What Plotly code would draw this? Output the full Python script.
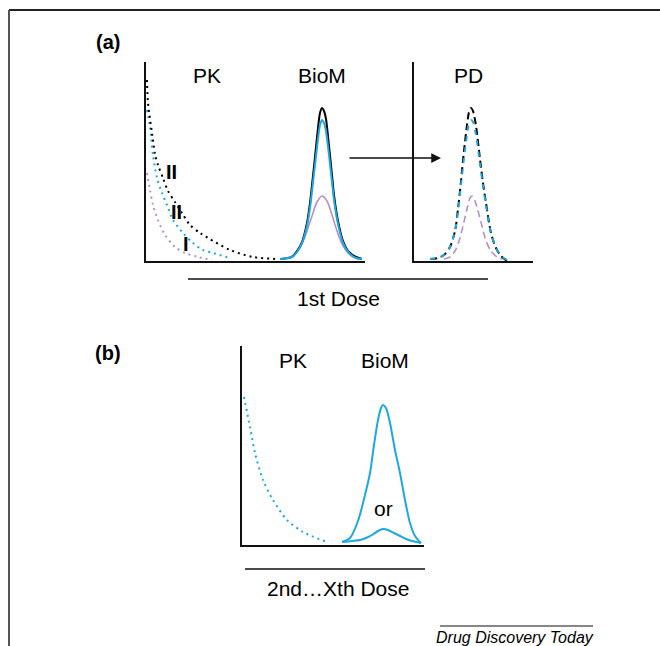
import plotly.graph_objects as go

W, H = 660, 646

# ---------------- data (x = time offset, y = level) ----------------
# Panel (a) PK: three dotted decay curves (black = II, blue = II, purple = I)
a_pk_black_x = [1, 2, 7, 9, 12, 17, 22, 29, 36, 44, 54, 62, 84, 107, 131]
a_pk_black_y = [181, 158, 121, 107, 96, 83, 70, 59, 48, 36, 28, 23, 11, 4, 2]
a_pk_blue_x = [1, 4, 7, 11, 16, 21, 27, 37, 47, 57, 67, 84]
a_pk_blue_y = [151, 134, 106, 83, 68, 56, 41, 28, 18, 11, 8, 3]
a_pk_purple_x = [1, 4, 7, 12, 19, 29, 39, 52, 66]
a_pk_purple_y = [88, 71, 56, 41, 26, 14, 8, 4, 1]

# Panel (a) BioM peaks
a_bm_black_x = [134, 146, 151, 156, 161, 164, 166, 169, 172, 174, 176, 178, 180, 183, 186, 188, 192, 197, 203, 210, 216]
a_bm_black_y = [2, 4, 10, 19, 38, 58, 76, 104, 133, 148, 153, 150, 142, 115, 86, 66, 40, 20, 9, 4, 2]
a_bm_blue_x = [134, 146, 151, 156, 161, 164, 166, 169, 172, 174, 176, 178, 180, 183, 186, 188, 192, 197, 203, 210, 216]
a_bm_blue_y = [2, 4, 9, 18, 35, 53, 70, 96, 122, 136, 141, 138, 130, 106, 79, 61, 37, 18, 8, 3, 2]
a_bm_purple_x = [134, 144, 151, 156, 161, 166, 171, 176, 181, 186, 191, 196, 202, 209, 216]
a_bm_purple_y = [2, 4, 9, 17, 30, 45, 59, 65, 60, 46, 30, 17, 8, 3, 2]

# Panel (a) PD peaks (dashed)
pd_black_x = [16, 24, 30, 36, 41, 44, 47, 50, 53, 55, 57, 59, 62, 66, 69, 72, 77, 82, 87, 93]
pd_black_y = [2, 3, 6, 14, 30, 52, 80, 110, 136, 149, 153, 150, 135, 102, 78, 58, 28, 13, 5, 0]
pd_blue_x = [16, 24, 30, 36, 41, 44, 47, 50, 53, 55, 57, 59, 62, 66, 69, 72, 77, 82, 87, 93]
pd_blue_y = [2, 3, 6, 14, 30, 50, 76, 103, 126, 138, 141, 139, 126, 97, 75, 56, 28, 13, 5, 1]
pd_purple_x = [30, 36, 41, 45, 49, 53, 56, 58, 61, 64, 68, 72, 77, 83, 88]
pd_purple_y = [2, 4, 10, 20, 35, 52, 63, 65, 60, 50, 35, 20, 10, 4, 2]

# Panel (b) PK and BioM
b_pk_x = [2, 8, 13, 21, 31, 45, 61, 85]
b_pk_y = [148, 118, 92, 65, 45, 25, 13, 3]
b_bm_high_x = [100, 108, 116, 122, 128, 132, 136, 139, 141, 144, 148, 153, 158, 163, 168, 173, 179]
b_bm_high_y = [3, 7, 24, 46, 72, 100, 125, 137, 140, 137, 122, 95, 72, 45, 22, 9, 2]
b_bm_low_x = [100, 110, 118, 124, 130, 136, 141, 146, 152, 158, 164, 170, 179]
b_bm_low_y = [3, 4, 5, 7, 10, 14, 16, 15, 12, 9, 6, 4, 2]

# ---------------- styles ----------------
BLACK = "#000000"
BLUE = "#1fa8e0"
PURPLE = "#b98fca"
FONT = "Liberation Sans, Arial, sans-serif"


def X(px):
    return px / W


def Y(py):
    return 1 - py / H


fig = go.Figure()


def add(x, y, color, width, dash, xa, ya):
    fig.add_trace(go.Scatter(
        x=x, y=y, mode="lines", xaxis=xa, yaxis=ya,
        line=dict(color=color, width=width, dash=dash, shape="spline", smoothing=0.8),
        hoverinfo="skip", showlegend=False))


DOT = "2px,4px"
DASH = "7px,4px"

# panel (a) left
add(a_pk_purple_x, a_pk_purple_y, PURPLE, 2, DOT, "x", "y")
add(a_pk_blue_x, a_pk_blue_y, BLUE, 2, DOT, "x", "y")
add(a_pk_black_x, a_pk_black_y, BLACK, 2, DOT, "x", "y")
add(a_bm_purple_x, a_bm_purple_y, PURPLE, 1.6, "solid", "x", "y")
add(a_bm_black_x, a_bm_black_y, BLACK, 2, "solid", "x", "y")
add(a_bm_blue_x, a_bm_blue_y, BLUE, 2, "solid", "x", "y")

# panel (a) PD
add(pd_purple_x, pd_purple_y, PURPLE, 1.6, DASH, "x2", "y2")
add(pd_black_x, pd_black_y, BLACK, 2, DASH, "x2", "y2")
add(pd_blue_x, pd_blue_y, BLUE, 2, "5px,6px", "x2", "y2")

# panel (b)
add(b_pk_x, b_pk_y, BLUE, 2, DOT, "x3", "y3")
add(b_bm_high_x, b_bm_high_y, BLUE, 2, "solid", "x3", "y3")
add(b_bm_low_x, b_bm_low_y, BLUE, 2, "solid", "x3", "y3")

ax_common = dict(showline=True, linecolor="#111111", linewidth=1.6, showgrid=False,
                 zeroline=False, showticklabels=False, ticks="", fixedrange=True)

fig.update_layout(
    width=W, height=H,
    margin=dict(l=0, r=0, t=0, b=0),
    paper_bgcolor="white", plot_bgcolor="white",
    font=dict(family=FONT, color="black"),
    xaxis=dict(domain=[X(146), X(365)], range=[0, 219], anchor="y", **ax_common),
    yaxis=dict(domain=[Y(261), Y(62)], range=[0, 199], anchor="x", **ax_common),
    xaxis2=dict(domain=[X(414), X(533)], range=[0, 119], anchor="y2", **ax_common),
    yaxis2=dict(domain=[Y(261), Y(62)], range=[0, 199], anchor="x2", **ax_common),
    xaxis3=dict(domain=[X(242), X(424)], range=[0, 182], anchor="y3", **ax_common),
    yaxis3=dict(domain=[Y(545), Y(346)], range=[0, 199], anchor="x3", **ax_common),
)

# decorative frame and separator lines
shapes = [
    dict(type="line", xref="paper", yref="paper", x0=X(9), x1=X(660), y0=Y(10), y1=Y(10),
         line=dict(color="#222222", width=2)),
    dict(type="line", xref="paper", yref="paper", x0=X(9), x1=X(9), y0=Y(10), y1=Y(646),
         line=dict(color="#555555", width=2)),
    dict(type="line", xref="paper", yref="paper", x0=X(188), x1=X(488), y0=Y(279), y1=Y(279),
         line=dict(color="#111111", width=1.3)),
    dict(type="line", xref="paper", yref="paper", x0=X(245), x1=X(425), y0=Y(569), y1=Y(569),
         line=dict(color="#111111", width=1.3)),
    dict(type="line", xref="paper", yref="paper", x0=X(440), x1=X(593), y0=Y(626), y1=Y(626),
         line=dict(color="#111111", width=1)),
]
fig.update_layout(shapes=shapes)


def label(text, px, py, size=21, bold=False, italic=False):
    t = text
    if bold:
        t = "<b>" + t + "</b>"
    if italic:
        t = "<i>" + t + "</i>"
    fig.add_annotation(x=X(px), y=Y(py), xref="paper", yref="paper", text=t,
                       showarrow=False, xanchor="center", yanchor="middle",
                       font=dict(size=size, family=FONT, color="black"))


label("(a)", 108, 42, 20, bold=True)
label("(b)", 108, 353, 20, bold=True)
label("PK", 207, 75)
label("BioM", 322, 75)
label("PD", 468, 75)
label("II", 171, 172, 20, bold=True)
label("II", 176, 212, 20, bold=True)
label("I", 186, 244, 20, bold=True)
label("1st Dose", 338, 298)
label("PK", 293, 360)
label("BioM", 385, 360)
label("or", 383, 508)
label("2nd…Xth Dose", 338, 588)
label("Drug Discovery Today", 515, 637, 16, italic=True)

# arrow from BioM to PD
fig.add_annotation(x=X(441), y=Y(158), ax=348 - 441, ay=0, xref="paper", yref="paper",
                   axref="pixel", ayref="pixel", text="", showarrow=True,
                   arrowhead=2, arrowsize=1.3, arrowwidth=1.5, arrowcolor="#111111")

fig.write_html("out.html",
               config={"displayModeBar": False},
               post_script="document.body.style.margin='0';document.body.style.overflow='hidden';")
